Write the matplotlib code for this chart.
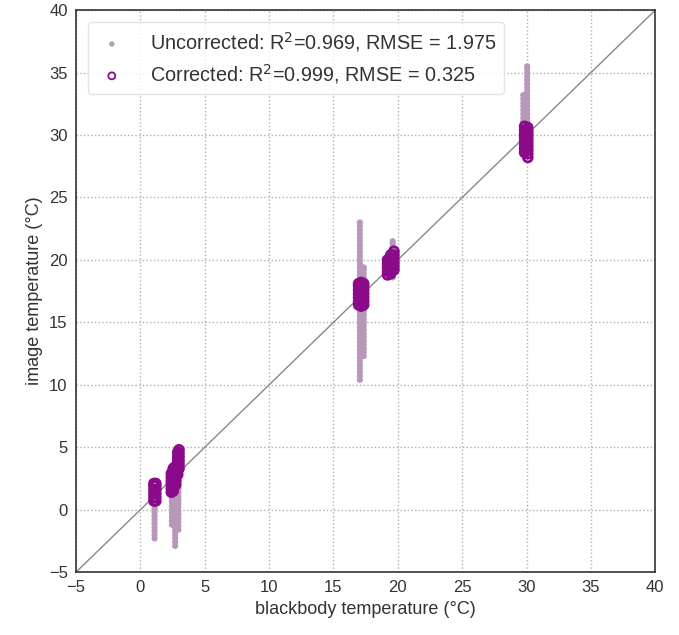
import matplotlib.pyplot as plt

plt.rcParams['font.family'] = ['Liberation Sans', 'DejaVu Sans']

# uncorrected image temperatures, one list per column of points (x = blackbody temp)
unc_cols = [
    (1.1, [-2.3, -2.0, -1.7, -1.4, -1.1, -0.8, -0.5, -0.2, 0.1, 0.4, 0.7, 1.0, 1.3, 1.6]),
    (2.45, [-1.2, -0.9, -0.6, -0.3, 0.0, 0.3, 0.6, 0.9, 1.2, 1.5]),
    (2.7, [-2.9, -2.6, -2.3, -2.0, -1.7, -1.4, -1.1, -0.8, -0.5, -0.2, 0.1, 0.4, 0.7,
           1.0, 1.3, 1.6, 1.9, 2.2]),
    (2.95, [-1.6, -1.3, -1.0, -0.7, -0.4, -0.1, 0.2, 0.5, 0.8, 1.1, 1.4, 1.7, 2.0, 2.3,
            2.6, 2.9, 3.2, 3.5, 3.8, 4.1, 4.4, 4.7]),
    (17.05, [10.4, 10.7, 11.0, 11.3, 11.6, 11.9, 12.2, 12.5, 12.8, 13.1, 13.4, 13.7, 14.0,
             14.3, 14.6, 14.9, 15.2, 15.5, 15.8, 16.1, 16.4, 16.7, 17.0, 17.3, 17.6, 17.9,
             18.2, 18.5, 18.8, 19.1, 19.4, 19.7, 20.0, 20.3, 20.6, 20.9, 21.2, 21.5, 21.8,
             22.1, 22.4, 22.7, 23.0]),
    (17.35, [12.3, 12.6, 12.9, 13.2, 13.5, 13.8, 14.1, 14.4, 14.7, 15.0, 15.3, 15.6, 15.9,
             16.2, 16.5, 16.8, 17.1, 17.4, 17.7, 18.0, 18.3, 18.6, 18.9, 19.2, 19.4]),
    (19.6, [18.6, 18.9, 19.2, 19.5, 19.8, 20.1, 20.4, 20.7, 21.0, 21.3, 21.5]),
    (29.75, [29.0, 29.3, 29.6, 29.9, 30.2, 30.5, 30.8, 31.1, 31.4, 31.7, 32.0, 32.3, 32.6,
             32.9, 33.2]),
    (30.05, [29.0, 29.3, 29.6, 29.9, 30.2, 30.5, 30.8, 31.1, 31.4, 31.7, 32.0, 32.3, 32.6,
             32.9, 33.2, 33.5, 33.8, 34.1, 34.4, 34.7, 35.0, 35.3, 35.5]),
]

# corrected image temperatures
cor_cols = [
    (1.05, [0.7, 1.0, 1.3, 1.6, 1.9, 2.1]),
    (1.2, [0.7, 1.0, 1.3, 1.6, 1.9, 2.1]),
    (2.4, [1.4, 1.7, 2.0, 2.3, 2.6, 2.9]),
    (2.55, [1.5, 1.8, 2.1, 2.4, 2.7, 3.0, 3.3]),
    (2.75, [2.0, 2.3, 2.6, 2.9, 3.2, 3.5]),
    (2.9, [2.8, 3.1, 3.4, 3.7, 4.0, 4.3, 4.6]),
    (3.0, [3.3, 3.6, 3.9, 4.2, 4.5, 4.8]),
    (16.95, [16.4, 16.7, 17.0, 17.3, 17.6, 17.9, 18.1]),
    (17.15, [16.3, 16.6, 16.9, 17.2, 17.5, 17.8, 18.2]),
    (17.35, [16.4, 16.7, 17.0, 17.3, 17.6, 17.9, 18.1]),
    (19.2, [18.8, 19.1, 19.4, 19.7, 20.0]),
    (19.45, [18.9, 19.2, 19.5, 19.8, 20.1, 20.4]),
    (19.7, [19.2, 19.5, 19.8, 20.1, 20.4, 20.7]),
    (29.85, [28.6, 28.9, 29.2, 29.5, 29.8, 30.1, 30.4, 30.7]),
    (30.1, [28.2, 28.5, 28.8, 29.1, 29.4, 29.7, 30.0, 30.3, 30.6]),
]

ticks = [-5, 0, 5, 10, 15, 20, 25, 30, 35, 40]
unc_label = 'Uncorrected: R$^2$=0.969, RMSE = 1.975'
cor_label = 'Corrected: R$^2$=0.999, RMSE = 0.325'

unc_x, unc_y = [], []
for x, ys in unc_cols:
    unc_x += [x] * len(ys)
    unc_y += ys
cor_x, cor_y = [], []
for x, ys in cor_cols:
    cor_x += [x] * len(ys)
    cor_y += ys

fig = plt.figure(figsize=(6.79, 6.35), dpi=100)
ax = fig.add_axes([0.112, 0.099, 0.853, 0.885])

ax.plot([-5, 40], [-5, 40], color='#888888', lw=1, zorder=1)
ax.scatter(unc_x, unc_y, s=20, color='#b898b8', edgecolors='none', zorder=2,
           label=unc_label)
ax.scatter(cor_x, cor_y, s=40, facecolors='none', edgecolors='#8a0a8a', linewidths=2,
           zorder=3, label=cor_label)

ax.set_xlim(-5, 40)
ax.set_ylim(-5, 40)
ax.set_xticks(ticks)
ax.set_yticks(ticks)
ax.set_xticklabels(['\u22125' if t < 0 else str(t) for t in ticks])
ax.set_yticklabels(['\u22125' if t < 0 else str(t) for t in ticks])
ax.tick_params(length=0, labelsize=12, colors='#333333', pad=6)
ax.grid(True, linestyle=':', color='#b0b0b0', lw=1)
ax.set_axisbelow(True)
for sp in ax.spines.values():
    sp.set_color('#333333')
    sp.set_linewidth(1.2)

ax.set_xlabel('blackbody temperature (\u00b0C)', fontsize=13, color='#333333')
ax.set_ylabel('image temperature (\u00b0C)', fontsize=13, color='#333333')

leg = ax.legend(loc='upper left', fontsize=14.3, frameon=True, markerscale=0.8,
                borderpad=0.4, handletextpad=1.1, labelspacing=0.4,
                borderaxespad=0.6, handlelength=1.6)
leg.get_frame().set_edgecolor('#dddddd')
leg.get_frame().set_linewidth(1)
for t in leg.get_texts():
    t.set_color('#333333')
leg.legend_handles[1].set_sizes([25])
leg.legend_handles[1].set_linewidths([1.3])
leg.legend_handles[0].set_sizes([15])

fig.savefig('out.png', dpi=100)
